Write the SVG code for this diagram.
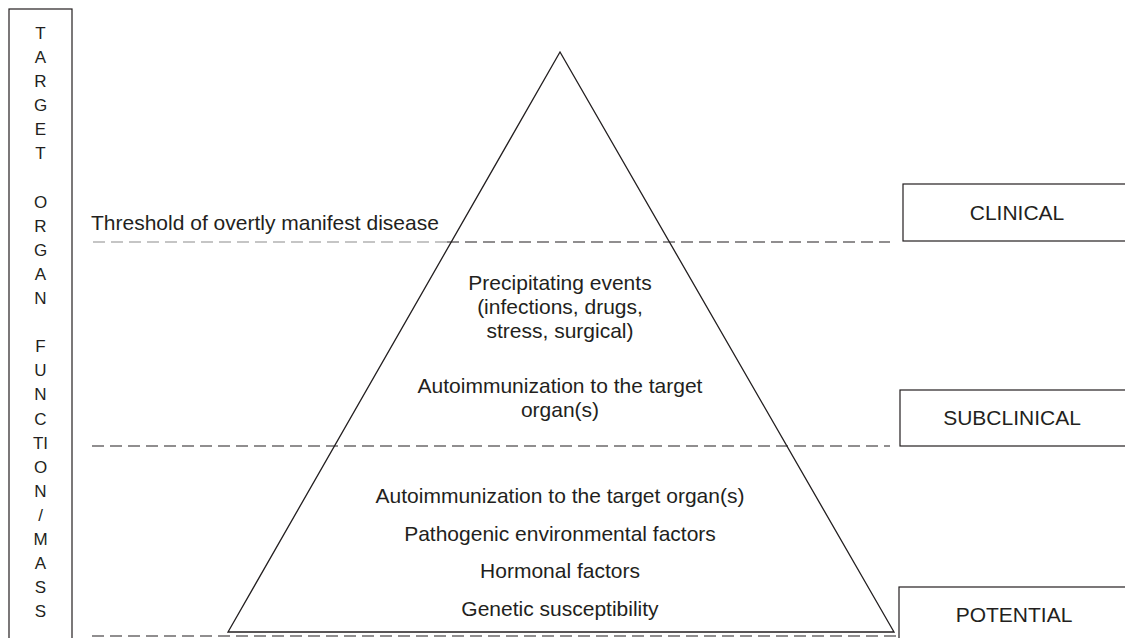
<svg xmlns="http://www.w3.org/2000/svg" width="1125" height="638" viewBox="0 0 1125 638">
<style>
text{font-family:"Liberation Sans",Arial,sans-serif;fill:#231f20}
.t{font-size:21px;text-anchor:middle}
.v{font-size:17px;text-anchor:middle}
.lab{font-size:21px;text-anchor:middle}
.box{fill:#fff;stroke:#231f20;stroke-width:1.2}
.dash{stroke:#231f20;stroke-width:1.2;stroke-dasharray:12,6;fill:none}
.gdash{stroke:#b3b3b3;stroke-width:1.5;stroke-dasharray:12,6;fill:none}
</style>
<g id="axis">
<rect class="box" x="9" y="9" width="63" height="640"/>
<text class="v" x="40.5" y="39">T</text>
<text class="v" x="40.5" y="63">A</text>
<text class="v" x="40.5" y="87">R</text>
<text class="v" x="40.5" y="111">G</text>
<text class="v" x="40.5" y="135">E</text>
<text class="v" x="40.5" y="159">T</text>
<text class="v" x="40.5" y="208">O</text>
<text class="v" x="40.5" y="232">R</text>
<text class="v" x="40.5" y="256">G</text>
<text class="v" x="40.5" y="280">A</text>
<text class="v" x="40.5" y="304">N</text>
<text class="v" x="40.5" y="352">F</text>
<text class="v" x="40.5" y="376">U</text>
<text class="v" x="40.5" y="400">N</text>
<text class="v" x="40.5" y="425">C</text>
<text class="v" x="40.5" y="449">TI</text>
<text class="v" x="40.5" y="473">O</text>
<text class="v" x="40.5" y="497">N</text>
<text class="v" x="40.5" y="521">/</text>
<text class="v" x="40.5" y="545">M</text>
<text class="v" x="40.5" y="569">A</text>
<text class="v" x="40.5" y="593">S</text>
<text class="v" x="40.5" y="617">S</text>
</g>
<g id="connectors">
<line class="gdash" x1="93" y1="242" x2="447" y2="242"/>
<line class="dash" x1="447" y1="242" x2="890" y2="242"/>
<line class="dash" x1="92" y1="446" x2="890" y2="446"/>
<line class="dash" x1="92" y1="636" x2="896" y2="636"/>
</g>
<g id="pyramid">
<polygon points="560,52 228,632 894,632" fill="none" stroke="#231f20" stroke-width="1.3"/>
</g>
<g id="threshold">
<text x="91" y="230" style="font-size:21px">Threshold of overtly manifest disease</text>
</g>
<g id="clinical-zone">
<text class="t" x="560" y="290">Precipitating events</text>
<text class="t" x="560" y="314">(infections, drugs,</text>
<text class="t" x="560" y="338">stress, surgical)</text>
<text class="t" x="560" y="393">Autoimmunization to the target</text>
<text class="t" x="560" y="417">organ(s)</text>
</g>
<g id="potential-zone">
<text class="t" x="560" y="503">Autoimmunization to the target organ(s)</text>
<text class="t" x="560" y="541">Pathogenic environmental factors</text>
<text class="t" x="560" y="578">Hormonal factors</text>
<text class="t" x="560" y="616">Genetic susceptibility</text>
</g>
<g id="clinical">
<rect class="box" x="903" y="184" width="230" height="57"/>
<text class="lab" x="1017" y="220">CLINICAL</text>
</g>
<g id="subclinical">
<rect class="box" x="900" y="390" width="233" height="56"/>
<text class="lab" x="1012" y="425">SUBCLINICAL</text>
</g>
<g id="potential">
<rect class="box" x="899" y="587" width="234" height="60"/>
<text class="lab" x="1014" y="622">POTENTIAL</text>
</g>
</svg>
